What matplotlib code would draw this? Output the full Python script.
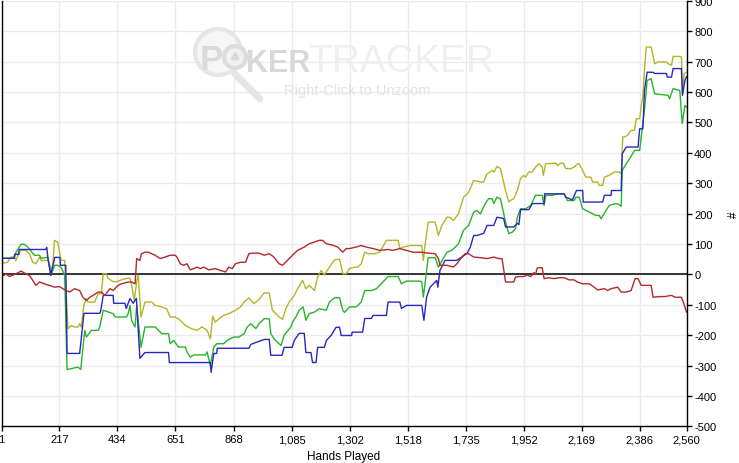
import matplotlib
matplotlib.use("Agg")
import matplotlib.pyplot as plt
from matplotlib.patches import Ellipse
from matplotlib.lines import Line2D

# ---- data: (hand, cumulative $) ----
blue_pts = [(1,53),(48,53),(50,66),(66,66),(67,82),(166,82),(170,89),(174,56),(185,-3),(200,56),(219,56),(221,30),
            (241,30),(246,-260),(293,-260),(309,-128),(368,-128),(372,-118),(381,-69),(418,-69),(420,-95),(462,-95),
            (467,-112),(481,-79),(493,-95),(505,-79),(518,-276),(537,-257),(625,-257),(628,-290),(781,-290),(784,-322),
            (794,-260),(805,-260),(807,-243),(925,-243),(933,-230),(982,-214),(1001,-214),(1007,-266),(1049,-266),
            (1057,-240),(1087,-240),(1095,-217),(1113,-194),(1132,-194),(1138,-257),(1157,-257),(1163,-290),(1176,-290),
            (1182,-240),(1207,-240),(1215,-217),(1232,-201),(1251,-174),(1264,-174),(1270,-201),(1309,-201),(1311,-190),
            (1350,-190),(1358,-145),(1383,-145),(1389,-135),(1439,-135),(1445,-91),(1489,-91),(1495,-112),(1514,-102),
            (1571,-102),(1579,-151),(1589,-75),(1602,-42),(1627,-20),(1631,-42),(1639,13),(1658,46),(1702,46),(1740,69),
            (1752,89),(1765,128),(1777,128),(1802,135),(1815,161),(1840,161),(1852,188),(1877,184),(1884,156),(1915,156),
            (1928,168),(1934,164),(1940,213),(1971,213),(1984,233),(2028,233),(2030,265),(2103,265),(2109,254),(2134,245),
            (2149,276),(2172,276),(2174,238),(2247,238),(2253,260),(2278,260),(2280,276),(2316,276),(2320,397),(2335,419),
            (2379,419),(2385,479),(2397,479),(2403,605),(2413,665),(2435,665),(2441,661),(2485,661),(2488,649),(2504,649),
            (2510,677),(2541,677),(2545,589),(2554,638),(2560,650)]

green_pts = [(1,53),(49,53),(55,73),(74,99),(86,99),(99,90),(124,63),(143,63),(149,53),(174,56),(186,-3),(199,30),
             (211,30),(224,23),(237,-3),(246,-313),(287,-305),(297,-313),(312,-184),(318,-206),(337,-184),(362,-184),
             (368,-173),(381,-118),(418,-129),(425,-140),(468,-140),(474,-129),(481,-102),(487,-151),(500,-173),
             (506,-102),(522,-240),(537,-173),(575,-173),(600,-195),(625,-195),(631,-228),(644,-217),(662,-239),
             (688,-239),(694,-255),(706,-272),(719,-265),(763,-265),(769,-255),(781,-300),(794,-239),(806,-228),
             (831,-228),(844,-217),(869,-206),(888,-206),(907,-195),(919,-173),(932,-162),(951,-178),(963,-162),
             (982,-146),(1001,-146),(1007,-195),(1019,-212),(1045,-234),(1057,-200),(1082,-173),(1088,-157),
             (1101,-140),(1113,-118),(1128,-107),(1138,-151),(1151,-129),(1170,-124),(1188,-113),(1214,-118),
             (1226,-91),(1245,-77),(1264,-77),(1276,-118),(1282,-125),(1301,-107),(1326,-107),(1345,-91),(1358,-53),
             (1383,-53),(1402,-47),(1426,-25),(1445,-7),(1483,-7),(1495,-31),(1514,-22),(1564,-22),(1571,-25),
             (1577,-75),(1587,-2),(1595,55),(1621,55),(1633,24),(1646,44),(1665,73),(1683,79),(1696,90),(1708,100),
             (1727,145),(1746,161),(1765,205),(1777,210),(1790,199),(1808,233),(1821,249),(1834,249),(1840,233),
             (1852,254),(1865,249),(1884,172),(1896,134),(1909,139),(1915,145),(1921,150),(1928,188),(1940,216),
             (1959,216),(1978,227),(1996,260),(2021,260),(2028,227),(2034,260),(2059,260),(2078,265),(2103,265),
             (2115,243),(2140,243),(2147,254),(2159,254),(2172,216),(2197,205),(2222,194),(2234,194),(2241,183),
             (2259,210),(2272,227),(2291,232),(2303,232),(2316,224),(2320,342),(2335,364),(2347,380),(2366,408),
             (2385,408),(2391,452),(2403,540),(2413,638),(2428,644),(2441,594),(2491,589),(2497,578),(2510,611),
             (2535,605),(2544,496),(2554,556),(2560,550)]

olive_pts = [(1,36),(24,40),(36,57),(49,57),(55,46),(67,73),(74,79),(92,79),(105,68),(118,40),(130,35),(143,57),
             (149,46),(174,46),(184,26),(190,6),(199,112),(211,106),(224,46),(237,46),(249,-179),(261,-168),(274,-173),
             (287,-173),(293,-162),(299,-173),(309,-100),(318,-80),(324,-91),(349,-91),(362,-64),(374,-64),(381,2),
             (393,2),(399,-13),(418,-24),(431,-24),(449,-18),(468,-13),(481,-13),(487,-35),(497,-86),(506,-24),
             (512,-2),(518,-86),(522,-140),(537,-91),(562,-91),(575,-102),(600,-107),(618,-113),(631,-140),(650,-140),
             (669,-151),(688,-168),(712,-179),(731,-184),(750,-173),(769,-184),(781,-212),(790,-138),(800,-157),
             (813,-146),(831,-135),(850,-129),(875,-118),(894,-107),(907,-91),(925,-77),(944,-96),(963,-83),(982,-61),
             (1001,-61),(1013,-118),(1038,-140),(1051,-148),(1063,-113),(1076,-91),(1095,-69),(1107,-47),(1126,-20),
             (1138,-47),(1151,-36),(1170,-53),(1182,-9),(1195,13),(1207,-2),(1226,24),(1245,48),(1264,50),(1276,2),
             (1288,2),(1301,19),(1320,24),(1332,24),(1345,35),(1358,73),(1370,68),(1395,68),(1414,73),(1439,112),
             (1483,112),(1489,85),(1501,90),(1527,95),(1571,95),(1577,46),(1583,95),(1595,172),(1621,172),(1633,128),
             (1646,161),(1665,188),(1677,188),(1689,177),(1708,199),(1727,254),(1746,270),(1765,309),(1790,304),
             (1802,304),(1815,331),(1834,342),(1840,336),(1852,355),(1865,348),(1884,276),(1896,238),(1902,243),
             (1915,249),(1928,276),(1940,315),(1952,326),(1959,320),(1971,337),(1984,337),(1996,353),(2009,364),
             (2021,353),(2025,326),(2034,364),(2072,366),(2078,358),(2090,366),(2100,366),(2109,348),(2128,348),
             (2140,353),(2153,364),(2159,364),(2172,342),(2184,320),(2203,320),(2209,304),(2228,304),(2234,293),
             (2247,293),(2253,320),(2272,326),(2291,337),(2309,337),(2316,331),(2322,452),(2328,452),(2341,458),
             (2353,474),(2366,474),(2372,512),(2385,512),(2391,556),(2397,584),(2403,677),(2410,748),(2428,748),
             (2441,693),(2454,699),(2485,699),(2491,693),(2504,688),(2510,717),(2535,717),(2541,715),(2545,594),
             (2551,661),(2560,665)]

red_pts = [(1,-3),(11,-3),(17,2),(30,-7),(42,-3),(55,2),(74,11),(92,2),(105,-3),(118,-20),(130,-36),(143,-25),
           (161,-31),(180,-36),(199,-42),(218,-40),(230,-47),(243,-53),(255,-58),(274,-47),(293,-53),(305,-75),
           (318,-86),(331,-75),(343,-69),(362,-58),(374,-58),(387,-69),(406,-47),(418,-53),(437,-36),(449,-31),
           (475,-25),(487,-25),(500,-31),(506,52),(518,46),(524,68),(537,73),(550,73),(562,68),(575,63),(594,52),
           (612,57),(631,63),(650,63),(656,57),(669,35),(681,30),(694,35),(706,15),(719,19),(731,24),(744,19),
           (756,24),(775,15),(800,19),(819,13),(838,8),(850,24),(863,19),(875,35),(894,40),(913,40),(925,68),
           (938,70),(963,70),(982,63),(1001,68),(1019,57),(1038,35),(1051,30),(1069,46),(1088,63),(1107,79),
           (1132,90),(1151,101),(1188,112),(1201,112),(1214,101),(1238,96),(1257,90),(1276,73),(1289,85),(1301,85),
           (1326,90),(1345,95),(1364,90),(1389,85),(1414,79),(1445,82),(1464,79),(1489,85),(1514,79),(1539,73),
           (1571,73),(1595,70),(1621,68),(1633,52),(1639,30),(1665,30),(1689,24),(1702,35),(1721,57),(1733,68),
           (1746,68),(1765,57),(1790,55),(1815,52),(1840,57),(1858,52),(1871,52),(1884,-25),(1915,-25),(1921,-9),
           (1934,-7),(1952,-7),(1965,-2),(1978,-7),(1990,6),(1996,0),(2003,22),(2021,22),(2028,-14),(2046,-11),
           (2065,-14),(2084,-11),(2103,-11),(2121,-18),(2140,-18),(2153,-25),(2172,-31),(2197,-31),(2215,-42),
           (2228,-51),(2253,-47),(2265,-53),(2278,-47),(2303,-42),(2316,-58),(2335,-58),(2353,-53),(2368,-14),
           (2379,-14),(2391,-36),(2428,-36),(2435,-75),(2460,-73),(2478,-73),(2504,-69),(2516,-75),(2541,-75),
           (2548,-91),(2560,-124)]

x_ticks = [1, 217, 434, 651, 868, 1085, 1302, 1518, 1735, 1952, 2169, 2386, 2560]
x_labels = ["1", "217", "434", "651", "868", "1,085", "1,302", "1,518", "1,735", "1,952", "2,169", "2,386", "2,560"]
y_ticks = list(range(-500, 901, 100))

lab_font = "Liberation Sans"

fig = plt.figure(figsize=(7.39, 4.64), dpi=100)
ax = fig.add_axes([1.5 / 739, 36.6 / 464, 685 / 739, 425.6 / 464])

ax.set_xlim(1, 2560)
ax.set_ylim(-500, 900)
ax.set_axisbelow(True)
ax.grid(True, color="#ebebeb", lw=1)

# ----- watermark -----
wm = dict(transform=fig.transFigure, zorder=0.7)
ax.add_artist(Ellipse((218 / 739, 1 - 53 / 464), 46 / 739, 46 / 464, facecolor="#f6f6f6",
                      edgecolor="#e6e6e6", lw=3, **wm))
ax.add_artist(Line2D([234 / 739, 260 / 739], [1 - 74 / 464, 1 - 100 / 464], color="#e6e6e6", lw=5,
                     solid_capstyle="round", **wm))
ax.add_artist(Ellipse((235 / 739, 1 - 58 / 464), 22 / 739, 22 / 464, facecolor="#f0f0f0",
                      edgecolor="#dcdcdc", lw=3, **wm))
ax.text(200 / 739, 1 - 70 / 464, "P", fontsize=25, fontweight="bold", color="#dadada", va="baseline",
        family=lab_font, **wm)
ax.text(235 / 739, 1 - 58 / 464, "\u2660", fontsize=10, color="#d8d8d8", ha="center", va="center", **wm)
ax.text(246 / 739, 1 - 72 / 464, "KER", fontsize=22, fontweight="bold", color="#d8d8d8", va="baseline",
        family=lab_font, **wm)
ax.text(308 / 739, 1 - 72 / 464, "TRACKER", fontsize=28, color="#efefef", va="baseline", family=lab_font, **wm)
ax.text(357 / 739, 1 - 91.5 / 464, "Right-Click to Unzoom", fontsize=10.5, color="#e2e2e2",
        ha="center", va="center", family=lab_font, **wm)

ax.axhline(0, color="black", lw=1.1, zorder=1.8)

series = [(olive_pts, "#b4b428"), (green_pts, "#28b428"), (blue_pts, "#2828c0"), (red_pts, "#b42828")]
for pts, col in series:
    xs = [p[0] for p in pts]
    ys = [p[1] for p in pts]
    ax.plot(xs, ys, color=col, lw=1.0, zorder=2)

ax.spines["top"].set_visible(False)
for s in ["left", "right", "bottom"]:
    ax.spines[s].set_color("black")
    ax.spines[s].set_linewidth(1)

ax.yaxis.tick_right()
ax.set_yticks(y_ticks)
ax.set_yticklabels([str(v) for v in y_ticks], family=lab_font, fontsize=8)
ax.set_xticks(x_ticks)
ax.set_xticklabels(x_labels, family=lab_font, fontsize=8)
ax.tick_params(axis="both", direction="out", length=3.5, width=1, pad=2, colors="black")

ax.yaxis.set_label_position("right")
ax.set_ylabel("#", rotation=90, fontsize=8.5, labelpad=8, family=lab_font)
ax.set_xlabel("Hands Played", fontsize=8.5, family=lab_font, labelpad=4)

fig.savefig("out.png", dpi=100)
